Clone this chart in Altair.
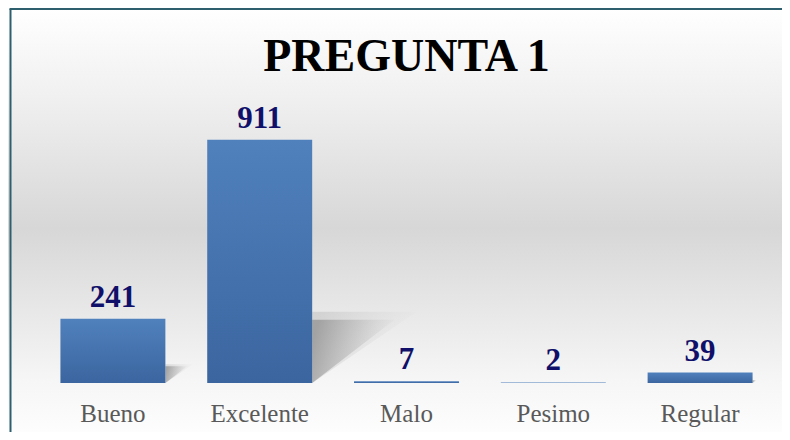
import altair as alt
import pandas as pd

categories = ["Bueno", "Excelente", "Malo", "Pesimo", "Regular"]
values = [241, 911, 7, 2, 39]
title_text = "PREGUNTA 1"

df = pd.DataFrame({"cat": categories, "val": values})

W, H = 734, 267
PL, PT, PR, PB = 31.5, 108, 8.5, 49
YMAX = 1000
SH = 0.26  # shadow height as share of bar height

bg_grad = alt.Gradient(
    gradient="linear", x1=0, x2=0, y1=0, y2=1,
    stops=[
        alt.GradientStop(offset=0.0, color="#ffffff"),
        alt.GradientStop(offset=0.21, color="#f0f0f0"),
        alt.GradientStop(offset=0.52, color="#d7d7d7"),
        alt.GradientStop(offset=0.88, color="#f6f6f6"),
        alt.GradientStop(offset=1.0, color="#fdfdfd"),
    ],
)
bar_grad = alt.Gradient(
    gradient="linear", x1=0, x2=0, y1=0, y2=1,
    stops=[
        alt.GradientStop(offset=0.0, color="#5081bd"),
        alt.GradientStop(offset=1.0, color="#3b659f"),
    ],
)
shadow_grad = alt.Gradient(
    gradient="linear", x1=0, x2=1, y1=0.4, y2=0.6,
    stops=[
        alt.GradientStop(offset=0.0, color="rgba(150,150,150,0.8)"),
        alt.GradientStop(offset=0.5, color="rgba(170,170,170,0.4)"),
        alt.GradientStop(offset=1.0, color="rgba(200,200,200,0)"),
    ],
)
halo_grad = alt.Gradient(
    gradient="linear", x1=0, x2=1, y1=0.4, y2=0.6,
    stops=[
        alt.GradientStop(offset=0.0, color="rgba(170,170,170,0.35)"),
        alt.GradientStop(offset=1.0, color="rgba(200,200,200,0)"),
    ],
)

one = alt.Data(values=[{}])

bg = alt.Chart(one).mark_rect(fill=bg_grad).encode(
    x=alt.value(-PL), x2=alt.value(W + PR), y=alt.value(-PT), y2=alt.value(H + PB)
)
border_left = alt.Chart(one).mark_rule(color="#2e5f6f", strokeWidth=2).encode(
    x=alt.value(-29), y=alt.value(-107), y2=alt.value(H + PB)
)
border_top = alt.Chart(one).mark_rule(color="#2e5f6f", strokeWidth=2).encode(
    x=alt.value(-30), x2=alt.value(W + PR), y=alt.value(-107)
)

base = alt.Chart(df)
xscale = alt.Scale(paddingInner=0.285, paddingOuter=0.1425)
xenc = alt.X(
    "cat:N", sort=categories, scale=xscale,
    axis=alt.Axis(
        title=None, domain=False, ticks=False, labelAngle=0, zindex=2,
        labelFont="Liberation Serif", labelFontSize=25, labelColor="#595959",
        labelPadding=38, labelBaseline="alphabetic", labelAlign="center",
    ),
)
yscale = alt.Scale(domain=[0, YMAX])
yenc = alt.Y("val:Q", scale=yscale, axis=None)

# perspective shadow: right triangle to the right of each bar
tri = "M 0 -1 L 2.6 -1 L 0 1 Z"
halo = "M 0 -1.25 L 3.3 -1.25 L 0 1 Z"
shadow_base = base.transform_calculate(
    cy=f"datum.val * {SH} / 2",
    sz=f"pow(datum.val * {SH} * {H} / {YMAX}, 2)",
)
shadow_halo = shadow_base.mark_point(
    shape=halo, filled=True, fill=halo_grad, strokeWidth=0, opacity=1, xOffset=52.5
).encode(x=xenc,
         y=alt.Y("cy:Q", scale=yscale, axis=None),
         size=alt.Size("sz:Q", scale=None))
shadows = shadow_base.mark_point(
    shape=tri, filled=True, fill=shadow_grad, strokeWidth=0, opacity=1, xOffset=52.5
).encode(x=xenc,
         y=alt.Y("cy:Q", scale=yscale, axis=None),
         size=alt.Size("sz:Q", scale=None))

bars = base.mark_bar(fill=bar_grad).encode(x=xenc, y=yenc)
labels = base.mark_text(
    dy=-12, baseline="alphabetic", font="Liberation Serif", fontWeight="bold",
    fontSize=31, color="#10106a",
).encode(x=xenc, y=yenc, text="val:Q")

title = alt.Chart(alt.Data(values=[{"t": title_text}])).mark_text(
    font="Liberation Serif", fontWeight="bold", fontSize=46, color="#000000",
    baseline="alphabetic", align="center",
).encode(x=alt.value(W / 2), y=alt.value(-45), text="t:N")

chart = alt.layer(bg, border_left, border_top, shadow_halo, shadows, bars, labels, title).properties(
    width=W, height=H, autosize="none",
    padding={"left": PL, "top": PT, "right": PR, "bottom": PB},
).configure_view(stroke=None)

chart.save("out.html", embed_options={"renderer": "svg", "actions": False})
